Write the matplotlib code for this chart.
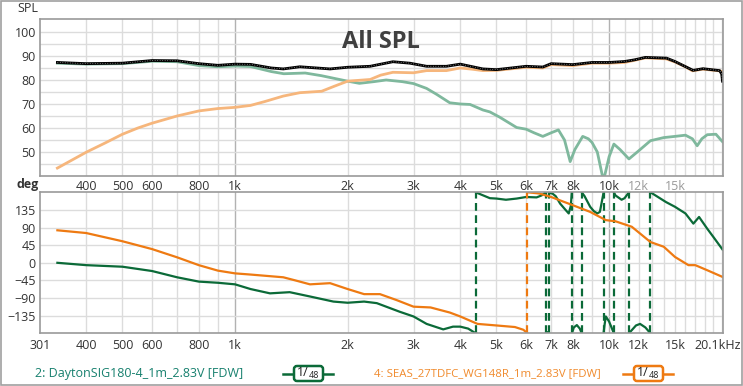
import numpy as np
import matplotlib
matplotlib.use("Agg")
import matplotlib.pyplot as plt
import matplotlib.transforms as mtransforms
from matplotlib.patches import FancyBboxPatch, Rectangle

plt.rcParams['font.family'] = ['Open Sans', 'DejaVu Sans']

# SPL, woofer (green)
f_spl_g = [335, 400, 500, 600, 700, 800, 900, 1000, 1100, 1250, 1350, 1540, 1700, 2000, 2150, 2350,
           2535, 2800, 3000, 3250, 3460, 3750, 4000, 4250, 4600, 4800, 5100, 5660, 6000, 6300, 6650,
           7000, 7320, 7600, 7870, 8100, 8500, 8800, 9000, 9300, 9660, 10000, 10300, 10700, 11300,
           12000, 12900, 14000, 15000, 16000, 16700, 17200, 17700, 18300, 19300, 20100]
spl_g = [87.0, 86.6, 86.8, 87.8, 87.6, 86.0, 85.5, 85.8, 85.6, 83.5, 82.6, 82.9, 81.8, 79.5, 78.6, 79.3,
         80.0, 79.3, 78.5, 76.5, 74.0, 70.5, 70.0, 69.8, 67.5, 66.7, 64.5, 60.2, 59.5, 58.0, 56.5,
         58.0, 59.2, 55.0, 46.0, 51.0, 56.5, 55.5, 54.0, 50.0, 38.0, 48.0, 53.3, 51.0, 47.1,
         50.5, 54.7, 56.0, 56.5, 57.0, 55.5, 52.6, 55.5, 57.2, 57.4, 54.3]

# SPL, tweeter (orange)
f_spl_o = [335, 370, 400, 450, 500, 550, 600, 700, 800, 900, 1000, 1100, 1200, 1346, 1490, 1704,
           1850, 2000, 2297, 2450, 2643, 3000, 3252, 3673, 4000, 4300, 4600, 5000, 6000, 6650,
           7000, 8000, 9000, 10000, 11000, 11700, 12500, 14200, 15000, 16000, 16700, 17800,
           19700, 20100]
spl_o = [43.3, 47.0, 49.9, 53.8, 57.4, 60.0, 62.0, 65.0, 67.1, 68.1, 68.6, 69.4, 71.0, 73.3, 74.7, 75.3,
         77.5, 79.5, 80.2, 82.0, 83.2, 83.0, 83.9, 83.9, 85.0, 84.5, 83.9, 84.0, 85.3, 85.0,
         86.4, 86.0, 87.0, 87.0, 87.3, 88.2, 89.2, 88.8, 87.5, 85.5, 83.8, 84.5,
         83.8, 83.5]

# SPL, sum (black)
f_spl_s = [335, 400, 500, 600, 700, 800, 900, 1000, 1100, 1250, 1346, 1490, 1795, 2000, 2297, 2643,
           2932, 3252, 3673, 4000, 4600, 5000, 6000, 6650, 7000, 8000, 9000, 10000, 11000, 11700,
           12500, 14240, 15000, 16770, 17830, 19750, 20000, 20100]
spl_s = [87.3, 86.8, 87.0, 88.1, 88.0, 86.8, 86.1, 86.6, 86.5, 85.0, 84.6, 85.5, 84.6, 85.3, 85.7, 87.6,
         87.0, 85.7, 85.7, 86.6, 84.6, 84.3, 85.7, 85.4, 86.8, 86.4, 87.3, 87.3, 87.7, 88.4,
         89.4, 89.1, 87.7, 84.0, 84.7, 83.9, 82.5, 79.5]

# phase (unwrapped), woofer
f_ph_g = [335, 400, 500, 600, 700, 800, 900, 1000, 1100, 1240, 1400, 1586, 1832, 2000, 2213, 2393,
          2756, 3000, 3252, 3602, 3826, 4000, 4200, 4365, 4450, 4800, 5000, 5300, 5660, 6000, 6400,
          6600, 6750, 6850, 6950, 7050, 7200, 7400, 7650, 7800, 7900, 7950, 8050, 8200, 8350, 8450,
          8600, 8900, 9100, 9300, 9450, 9660, 9720, 9800, 10000, 10200, 10300, 10400, 10800, 11000,
          11200, 11350, 11800, 12100, 12500, 12900, 13000, 14200, 15000, 16000, 16800, 17400,
          18300, 19000, 20100]
ph_g = [0, -6, -10, -21, -37, -48, -51, -55, -67, -78, -75, -86, -99, -102, -99, -103,
        -125, -137, -156, -170, -163, -163, -168, -178, -182, -195, -196, -199, -196, -192, -193,
        -188, -181, -177, -182, -183, -190, -209, -225, -234, -215, -180, -165, -159, -168, -180,
        -190, -217, -228, -234, -230, -182, -160, -137, -150, -170, -180, -188, -199, -195,
        -185, -178, -160, -156, -165, -180, -182, -205, -217, -234, -260, -243,
        -273, -294, -326]

# phase (unwrapped), tweeter
f_ph_o = [335, 400, 500, 600, 700, 800, 900, 1000, 1100, 1346, 1450, 1586, 1795, 2000, 2213, 2440,
          2700, 3000, 3332, 3751, 4000, 4450, 5000, 5600, 5900, 6050, 6500, 7000, 8000, 8900,
          9800, 10400, 11500, 12900, 14000, 15000, 16300, 17000, 18300, 20100]
ph_o = [83, 76, 55, 35, 14, -6, -20, -27, -30, -37, -45, -55, -52, -67, -80, -80,
        -95, -112, -114, -127, -137, -156, -160, -164, -171, -180, -183, -192, -213, -230,
        -251, -254, -268, -307, -319, -345, -366, -366, -379, -396]

top_ticks = [400, 500, 600, 800, 1000, 2000, 3000, 4000, 5000, 6000, 7000, 8000, 10000, 12000, 15000]
top_labels = ['400', '500', '600', '800', '1k', '2k', '3k', '4k', '5k', '6k', '7k', '8k', '10k', '12k', '15k']
bot_ticks = [301] + top_ticks + [20100]
bot_labels = ['301'] + top_labels + ['20.1kHz']

GREEN_SPL = '#7fb89d'
ORANGE_SPL = '#f6b67c'
GREEN_PH = '#0b6a38'
ORANGE_PH = '#ee7a12'
TXT = '#333333'
FS = 9


def wrap_phase(f, p):
    f = np.asarray(f, float)
    p = np.asarray(p, float)
    k = np.floor((p + 180) / 360)
    fs, ps, jumps = [f[0]], [p[0] - 360 * k[0]], []
    for i in range(1, len(f)):
        if k[i] != k[i - 1]:
            b = 360 * max(k[i], k[i - 1]) - 180
            t = (b - p[i - 1]) / (p[i] - p[i - 1])
            fc = 10 ** (np.log10(f[i - 1]) + t * (np.log10(f[i]) - np.log10(f[i - 1])))
            fs += [fc, np.nan, fc]
            ps += [b - 360 * k[i - 1], np.nan, b - 360 * k[i]]
            jumps.append(fc)
        fs.append(f[i])
        ps.append(p[i] - 360 * k[i])
    return fs, ps, jumps


def setup_grid(ax):
    ax.set_xscale('log')
    ax.set_xlim(301, 20100)
    ax.minorticks_off()
    grid_f = list(range(400, 1000, 100)) + list(range(2000, 10000, 1000)) + list(range(11000, 21000, 1000))
    for g in grid_f:
        ax.axvline(g, color='#dcdcdc', lw=1, zorder=0)
    for g in [1000, 10000]:
        ax.axvline(g, color='#b2b2b2', lw=1, zorder=0)
    for s in ax.spines.values():
        s.set_color('#9a9a9a')
        s.set_linewidth(1.2)
    ax.tick_params(length=0, labelsize=FS, colors=TXT)


W, H = 743, 386
fig = plt.figure(figsize=(W / 100, H / 100), dpi=100)

ax1 = fig.add_axes([40 / W, 1 - 176 / H, 682.5 / W, 157 / H])
ax2 = fig.add_axes([40 / W, 1 - 333.3 / H, 682.5 / W, 141 / H])

# SPL panel
setup_grid(ax1)
ax1.set_ylim(40, 105.4)
for v in range(45, 105, 5):
    ax1.axhline(v, color='#dcdcdc', lw=1, zorder=0)
ax1.set_yticks([50, 60, 70, 80, 90, 100])
ax1.set_xticks(top_ticks, top_labels)
ax1.tick_params(axis='x', pad=3)
ax1.tick_params(axis='y', pad=3)
for lab in ax1.get_xticklabels():
    if lab.get_text() in ('12k', '15k'):
        lab.set_color('#9a9a9a')

ax1.plot(f_spl_g, spl_g, color=GREEN_SPL, lw=2)
ax1.plot(f_spl_o, spl_o, color=ORANGE_SPL, lw=2)
ax1.plot(f_spl_s, spl_s, color='black', lw=2)
ax1.plot(f_spl_s, spl_s, color='#9a9a9a', lw=0.6, ls=(0, (1, 2)))
ax1.text(0.5, 0.855, 'All SPL', transform=ax1.transAxes, ha='center', va='center',
         fontsize=17, fontweight='bold', color='#404040')

# phase panel
setup_grid(ax2)
ax2.set_ylim(-180, 180)
for v in range(-135, 180, 45):
    ax2.axhline(v, color='#dcdcdc', lw=1, zorder=0)
ax2.set_yticks(list(range(-135, 180, 45)))
ax2.set_xticks(bot_ticks, bot_labels)
ax2.tick_params(axis='x', pad=4)
ax2.tick_params(axis='y', pad=3)
shift = mtransforms.ScaledTranslation(-5 / 100, 0, fig.dpi_scale_trans)
last = ax2.get_xticklabels()[-1]
last.set_transform(last.get_transform() + shift)

for f, p, c in [(f_ph_g, ph_g, GREEN_PH), (f_ph_o, ph_o, ORANGE_PH)]:
    fs, ps, jumps = wrap_phase(f, p)
    ax2.plot(fs, ps, color=c, lw=1.6)
    for fc in jumps:
        ax2.plot([fc, fc], [-180, 180], color=c, lw=1.6, ls=(0, (3.5, 2)))

fig.text(28 / W, 1 - 8 / H, 'SPL', ha='center', va='center', fontsize=FS, color=TXT)
fig.text(28 / W, 1 - 185 / H, 'deg', ha='center', va='center', fontsize=FS,
         fontweight='bold', color=TXT)

# legend row + border, drawn in pixel coordinates
ov = fig.add_axes([0, 0, 1, 1], zorder=5)
ov.set_xlim(0, W)
ov.set_ylim(H, 0)
ov.axis('off')
ov.patch.set_alpha(0)

ov.text(35, 374, '2: DaytonSIG180-4_1m_2.83V [FDW]', color='#17806e', fontsize=FS,
        ha='left', va='center')
ov.text(374, 374, '4: SEAS_27TDFC_WG148R_1m_2.83V [FDW]', color='#f08a2c', fontsize=8.2,
        ha='left', va='center')


def smooth_box(x0, c):
    ov.plot([x0, x0 + 50], [373.5, 373.5], color=c, lw=1.8)
    ov.add_patch(FancyBboxPatch((x0 + 11, 366), 29, 15, boxstyle='round,pad=0,rounding_size=3',
                                fc='white', ec=c, lw=1.8, zorder=3))
    ov.text(x0 + 20, 373, '1/', fontsize=9, color='#222222', ha='center', va='center', zorder=4)
    ov.text(x0 + 31, 376, '48', fontsize=6.5, color='#222222', ha='center', va='center', zorder=4)


smooth_box(283, GREEN_PH)
smooth_box(623, ORANGE_PH)

ov.add_patch(Rectangle((0.5, 0.5), 741, 384.5, fill=False, ec='#a0a0a0', lw=1.2))

fig.savefig('out.png', dpi=100)
